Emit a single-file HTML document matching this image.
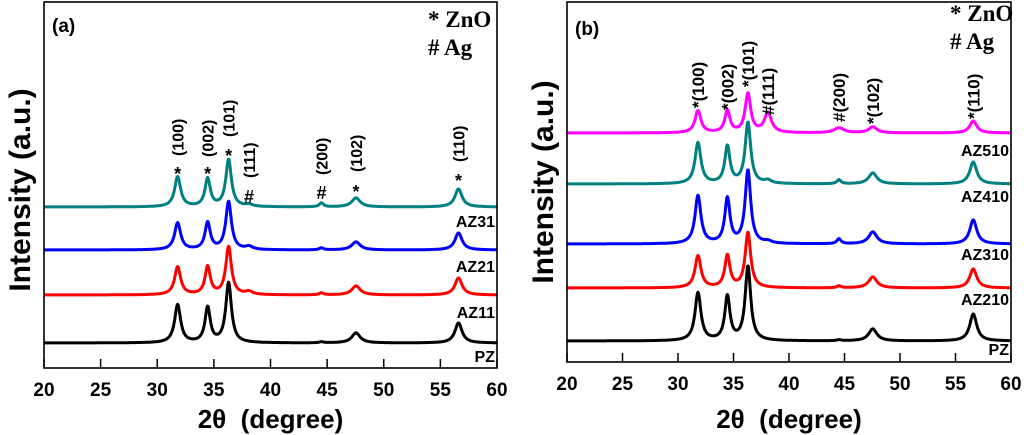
<!DOCTYPE html>
<html><head><meta charset="utf-8"><style>
html,body{margin:0;padding:0;background:#fff;}
svg{display:block;font-family:"Liberation Sans",sans-serif;}
.tick{font-weight:bold;font-size:19px;}
.lbl{font-weight:bold;font-size:16px;}
.star{font-size:18px;font-weight:bold;}
.leg{font-family:"Liberation Serif",serif;font-weight:bold;font-size:23px;}
</style></head><body>
<svg id="chart" width="1024" height="435" viewBox="0 0 1024 435"></svg>
<script>
// peak positions (2theta): 100, 002, 101, Ag111, Ag200, 102, 110
const peakPos = [31.8, 34.45, 36.3, 38.1, 44.5, 47.55, 56.6];
const peakWidth = [0.32, 0.28, 0.3, 0.38, 0.22, 0.45, 0.38];
// panel a series: baseline offset and peak amplitudes (arbitrary units)
const aNames = ["PZ", "AZ11", "AZ21", "AZ31"];
const aColors = ["#000000", "#ff0000", "#0000ff", "#008080"];
const aBase = [25, 73, 118, 161];
const aAmp = [
  [38, 35, 60, 0, 1, 10, 20],
  [28, 28, 48, 3, 2, 9, 17],
  [27, 27, 48, 3, 2, 8, 17],
  [30, 28, 47, 2, 4, 9, 18]
];
// panel b series
const bNames = ["PZ", "AZ210", "AZ310", "AZ410", "AZ510"];
const bColors = ["#000000", "#ff0000", "#0000ff", "#008080", "#ff00ff"];
const bBase = [21, 74, 118, 178, 229];
const bAmp = [
  [48, 44, 74, 0, 1, 12, 27],
  [32, 32, 55, 0, 2, 11, 19],
  [48, 45, 73, 2, 5, 12, 24],
  [41, 37, 61, 3, 4, 11, 22],
  [22, 22, 39, 20, 5, 6, 12]
];
const xTicks = [20, 25, 30, 35, 40, 45, 50, 55, 60];
const hklText = ["(100)", "(002)", "(101)", "(111)", "(200)", "(102)", "(110)"];
const hklMark = ["*", "*", "*", "#", "#", "*", "*"];

const NS = "http://www.w3.org/2000/svg";
const svg = document.getElementById("chart");
function mk(tag, attrs, parent, text) {
  const e = document.createElementNS(NS, tag);
  for (const k in attrs) e.setAttribute(k, attrs[k]);
  if (text !== undefined) e.textContent = text;
  (parent || svg).appendChild(e);
  return e;
}

function panel(cfg) {
  const g = mk("g", {});
  
  
  const xs = v => cfg.x0 + (v - 20) / 40 * (cfg.x1 - cfg.x0);
  const ys = v => cfg.y1 - v;
  cfg.base.forEach((b, i) => {
    let d = "";
    for (let t = 20; t <= 60.0001; t += 0.04) {
      let v = b;
      cfg.amp[i].forEach((a, k) => {
        const w = peakWidth[k] * (i === cfg.base.length - 1 && cfg.id === "panel-b" && k === 4 ? 2.5 : 1);
        const u = (t - peakPos[k]) / w;
        v += a / (1 + u * u);
      });
      d += (d ? "L" : "M") + xs(t).toFixed(1) + "," + ys(v).toFixed(1);
    }
    const p = mk("path", {d: d, fill: "none", stroke: cfg.colors[i], "stroke-width": 3, "stroke-linejoin": "round"}, g);
    
    
  });
  cfg.names.forEach((n, i) => {
    const t = mk("text", {x: cfg.x1 - 2, y: cfg.labelY[i], "text-anchor": "end", class: "lbl"}, g, n);
    
    
  });
  const fr = mk("rect", {x: cfg.x0, y: cfg.y0, width: cfg.x1 - cfg.x0, height: cfg.y1 - cfg.y0, fill: "none", stroke: "#000", "stroke-width": 1.6}, g);
  
  
  xTicks.forEach(v => {
    mk("line", {x1: xs(v), x2: xs(v), y1: cfg.y1, y2: cfg.y1 - 9, stroke: "#000", "stroke-width": 1.5}, g);
    const t = mk("text", {x: xs(v), y: cfg.y1 + 28, "text-anchor": "middle", class: "tick"}, g, String(v));
    
    
  });
  cfg.hkl.forEach((h, k) => {
    const x = xs(peakPos[k]);
    if (cfg.inlineMark) {
      const t = mk("text", {x: 0, y: 0, style: "font-weight:bold;font-size:17px", transform: "translate(" + (x + 6) + "," + h[1] + ") rotate(-90)"}, g, hklMark[k] + hklText[k]);
      
      
    } else {
      const s = mk("text", {x: x, y: h[0], "text-anchor": "middle", class: "star"}, g, hklMark[k]);
      
      
      const t = mk("text", {x: 0, y: 0, style: "font-weight:bold;font-size:16px", transform: "translate(" + (x + 6) + "," + h[1] + ") rotate(-90)"}, g, hklText[k]);
      
      
    }
  });
  const pl = mk("text", {x: cfg.x0 + 8, y: cfg.tagY, style: "font-weight:bold;font-size:19px"}, g, cfg.tag);
  
  
  const l1 = mk("text", {x: cfg.legX, y: cfg.legY, class: "leg"}, g, "* ZnO");
  
  
  const l2 = mk("text", {x: cfg.legX, y: cfg.legY + 28, class: "leg"}, g, "# Ag");
  
  
  const xt = mk("text", {x: (cfg.x0 + cfg.x1) / 2, y: 428, "text-anchor": "middle", style: "font-weight:bold;font-size:26px;white-space:pre"}, g, "2θ  (degree)");
  
  
  const yt = mk("text", {x: 0, y: 0, "text-anchor": "middle", style: "font-weight:bold;font-size:30px", transform: "translate(" + (cfg.x0 - 14) + "," + cfg.yTitleY + ") rotate(-90)"}, g, "Intensity (a.u.)");
  
  
}

panel({id: "panel-a", tag: "(a)", x0: 44, x1: 497, y0: 2, y1: 368, tagY: 32,
  names: aNames, colors: aColors, base: aBase, amp: aAmp,
  labelY: [362, 318, 272, 227],
  hkl: [[180, 156], [180, 157], [162, 137], [203, 178], [199, 175], [198, 172], [187, 162]],
  legX: 428, legY: 27, yTitleY: 190, inlineMark: false});
panel({id: "panel-b", tag: "(b)", x0: 567, x1: 1011, y0: 2, y1: 362, tagY: 35,
  names: bNames, colors: bColors, base: bBase, amp: bAmp,
  labelY: [355, 305, 260, 202, 156],
  hkl: [[0, 108], [0, 110], [0, 87], [0, 115], [0, 122], [0, 124], [0, 119]],
  legX: 950, legY: 21, yTitleY: 182, inlineMark: true});
</script>
</body></html>
